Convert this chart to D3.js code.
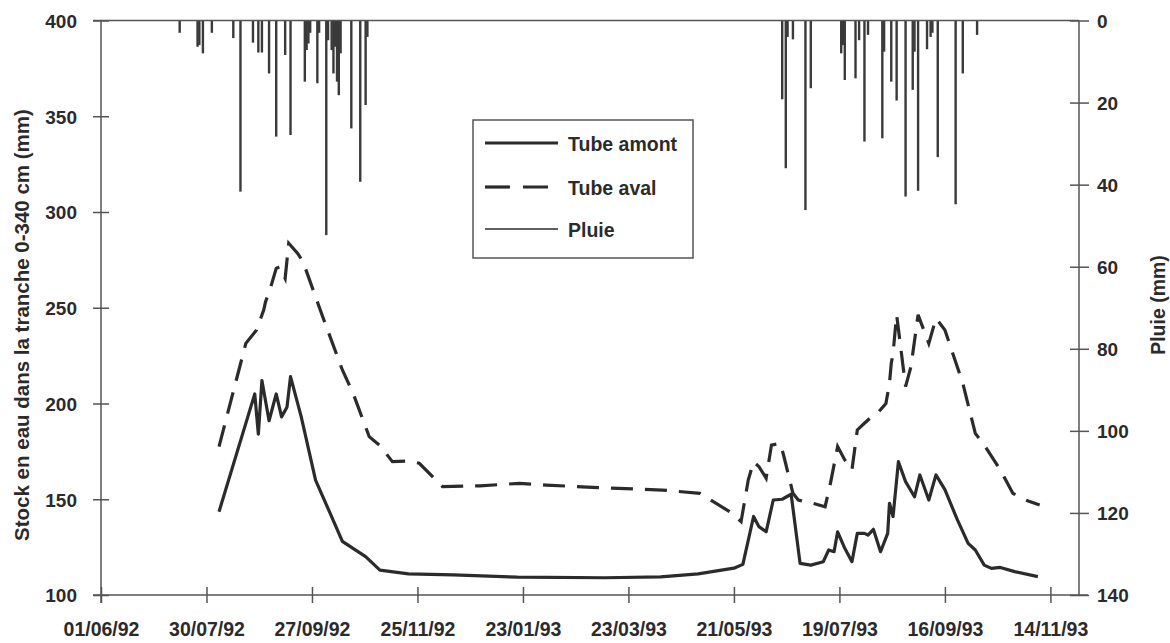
<!DOCTYPE html>
<html><head><meta charset="utf-8">
<script src="https://cdn.jsdelivr.net/npm/d3@7"></script>
<style>
html,body{margin:0;padding:0;background:#fff;}
svg{display:block;}
text{font-family:"Liberation Sans",Arial,Helvetica,sans-serif;font-weight:bold;fill:#2b2b2b;}
</style></head>
<body>
<svg id="chart" width="1170" height="643"></svg>
<script>
// ---------- DATA ----------
const tickDates = ["1992-06-01","1992-07-30","1992-09-27","1992-11-25","1993-01-23","1993-03-23","1993-05-21","1993-07-19","1993-09-16","1993-11-14"];
const leftTicks = [100,150,200,250,300,350,400];
const rightTicks = [0,20,40,60,80,100,120,140];

const amontDates = ["1992-08-06","1992-08-26","1992-08-28","1992-08-30","1992-09-03","1992-09-07","1992-09-10","1992-09-13","1992-09-15","1992-09-21","1992-09-29","1992-10-07","1992-10-14","1992-10-27","1992-11-04","1992-11-20","1992-12-15","1993-01-20","1993-03-10","1993-04-10","1993-05-01","1993-05-21","1993-05-26","1993-06-01","1993-06-04","1993-06-08","1993-06-12","1993-06-17","1993-06-22","1993-06-27","1993-07-03","1993-07-10","1993-07-13","1993-07-16","1993-07-18","1993-07-22","1993-07-26","1993-07-29","1993-08-02","1993-08-04","1993-08-07","1993-08-11","1993-08-15","1993-08-16","1993-08-18","1993-08-21","1993-08-25","1993-08-30","1993-09-02","1993-09-07","1993-09-11","1993-09-16","1993-09-23","1993-09-29","1993-10-03","1993-10-08","1993-10-12","1993-10-17","1993-10-25","1993-11-07"];
const amontValues = [143.5,205,184,212,191,205,193,198,214,193,160,143,128,120,113,111,110.5,109.3,109,109.5,111,114,116,141,135.7,133,149.6,150,152.6,116.5,115.6,117.4,123.5,122.6,133,124.4,117.4,132.2,132.2,131.3,134.3,122.6,132.2,147.9,141,169.6,159.2,151.3,162.7,149.6,162.7,155,139.2,127,123.5,115.6,113.9,114.4,112.2,109.6];

const avalDates = ["1992-08-06","1992-08-21","1992-08-27","1992-08-29","1992-08-31","1992-09-01","1992-09-04","1992-09-07","1992-09-09","1992-09-12","1992-09-14","1992-09-19","1992-09-22","1992-10-03","1992-10-14","1992-10-20","1992-10-29","1992-11-04","1992-11-11","1992-11-20","1992-11-26","1992-12-09","1992-12-30","1993-01-21","1993-02-05","1993-03-03","1993-04-11","1993-05-02","1993-05-20","1993-05-25","1993-05-29","1993-06-01","1993-06-04","1993-06-08","1993-06-11","1993-06-16","1993-06-18","1993-06-23","1993-06-26","1993-07-04","1993-07-11","1993-07-14","1993-07-18","1993-07-22","1993-07-26","1993-07-29","1993-08-02","1993-08-06","1993-08-10","1993-08-14","1993-08-16","1993-08-17","1993-08-18","1993-08-20","1993-08-22","1993-08-25","1993-08-28","1993-09-01","1993-09-07","1993-09-11","1993-09-16","1993-09-26","1993-10-03","1993-10-08","1993-10-17","1993-10-24","1993-10-31","1993-11-08"];
const avalValues = [177.5,231.4,238.4,243.6,248.8,253,261,270.6,271.4,265.4,283.7,278.4,274,245.3,217.5,205.3,182.7,178,169.6,170,168.8,156.6,157,158.3,157.4,156.2,154.8,153.1,142.7,138.3,160,169.6,167,161,178.3,179.2,172.2,153.1,149.6,147.9,146.1,158.4,177.5,170.5,165.3,186.2,189.7,193.1,195.7,200,210.6,221,226.2,246.3,231.4,208.8,219.2,246.3,231.4,244.5,238.4,210.6,184.4,178.3,165.3,153.1,149.6,147];

const rainDates = ["1992-07-15","1992-07-25","1992-07-26","1992-07-28","1992-08-02","1992-08-14","1992-08-18","1992-08-25","1992-08-28","1992-08-30","1992-09-03","1992-09-07","1992-09-12","1992-09-15","1992-09-23","1992-09-24","1992-09-25","1992-09-26","1992-09-30","1992-10-01","1992-10-05","1992-10-06","1992-10-08","1992-10-09","1992-10-10","1992-10-11","1992-10-12","1992-10-13","1992-10-19","1992-10-24","1992-10-27","1992-10-28",
"1993-06-17","1993-06-19","1993-06-20","1993-06-23","1993-06-30","1993-07-03","1993-07-20","1993-07-21","1993-07-22","1993-07-28","1993-07-30","1993-08-02","1993-08-04","1993-08-12","1993-08-13","1993-08-17","1993-08-20","1993-08-25","1993-08-29","1993-08-30","1993-09-01","1993-09-06","1993-09-08","1993-09-09","1993-09-12","1993-09-22","1993-09-26","1993-10-04"];
const rainValues = [3,6.4,6,8,3,4.3,41.7,5.4,7.8,7.8,12.9,28.3,8.4,27.9,14.9,7.2,5.6,3,15.3,3,52.3,4.8,7.2,12.9,6.4,14.9,18.2,8,26.3,39.3,20.6,4,
19.2,36,4,4.6,46.2,16.5,8,6,14.5,14.1,4.8,29.5,3.5,28.7,7.6,14.9,19.5,42.9,16.9,7.6,41.5,7,4,3,33.3,44.8,12.9,3.5];

const legendLabels = ["Tube amont","Tube aval","Pluie"];
const yLeftTitle = "Stock en eau dans la tranche 0-340 cm (mm)";
const yRightTitle = "Pluie (mm)";

// ---------- LAYOUT ----------
const parse = d3.utcParse("%Y-%m-%d");
const L = 101, R = 1079, T = 20.5, B = 595;
const svg = d3.select("#chart");
const ink = "#2b2b2b", axisCol = "#555";

const x = d3.scaleUtc().domain([parse("1992-06-01"), parse("1993-11-30")]).range([L, R]);
const yL = d3.scaleLinear().domain([100, 400]).range([B, T]);
const yR = d3.scaleLinear().domain([0, 140]).range([T, B]);

// rain bars
const rain = rainDates.map((d,i)=>({d:parse(d), v:rainValues[i]}));
svg.append("g").selectAll("rect").data(rain).join("rect")
  .attr("x", d=>x(d.d)-1.2).attr("width", 2.4)
  .attr("y", yR(0)).attr("height", d=>yR(d.v)-yR(0))
  .attr("fill", "#3a3a3a");

// axes
const xAxis = d3.axisBottom(x).tickValues(tickDates.map(parse)).tickFormat(d3.utcFormat("%d/%m/%y")).tickSize(8);
const gx = svg.append("g").attr("transform", `translate(0,${B})`).call(xAxis);
gx.selectAll(".tick line").attr("y1", -8).attr("y2", 8);
gx.selectAll(".tick text").attr("y", 41).attr("dy", 0).style("font-size","19.5px");
gx.select(".domain").attr("d", `M${L-8},0H${R+9}`);

const gl = svg.append("g").attr("transform", `translate(${L},0)`).call(d3.axisLeft(yL).tickValues(leftTicks).tickSize(8));
gl.selectAll(".tick line").attr("x1", -8).attr("x2", 8);
gl.selectAll(".tick text").attr("x", -24).attr("dy","0.36em").style("font-size","19px");
gl.select(".domain").attr("d", `M0,${T}V${B+8}`);

const gr = svg.append("g").attr("transform", `translate(${R},0)`).call(d3.axisRight(yR).tickValues(rightTicks).tickSize(8));
gr.selectAll(".tick line").attr("x1", -9).attr("x2", 10);
gr.selectAll(".tick text").attr("x", 18).attr("dy","0.36em").style("font-size","19px");
gr.select(".domain").attr("d", `M0,${T}V${B}`);

// top line
svg.append("line").attr("x1", L-8).attr("x2", R).attr("y1", T).attr("y2", T).attr("stroke", axisCol).attr("stroke-width", 1.5);

[gx, gl, gr].forEach(g=>{
  g.selectAll("path,line").attr("stroke", axisCol).attr("stroke-width", 1.5);
  g.selectAll("text").attr("fill", ink).style("font-family",'"Liberation Sans",Arial,sans-serif').style("font-weight","bold");
});

// lines
const line = d3.line().x(d=>x(d.d)).y(d=>yL(d.v));
const amont = amontDates.map((d,i)=>({d:parse(d), v:amontValues[i]}));
const aval = avalDates.map((d,i)=>({d:parse(d), v:avalValues[i]}));
svg.append("path").datum(aval).attr("d", line).attr("fill","none").attr("stroke", ink).attr("stroke-width", 3.2).attr("stroke-dasharray","22 12");
svg.append("path").datum(amont).attr("d", line).attr("fill","none").attr("stroke", ink).attr("stroke-width", 3.2).attr("stroke-linejoin","round");

// titles
svg.append("text").attr("transform", `translate(29,325) rotate(-90)`).attr("text-anchor","middle").style("font-size","20.5px").text(yLeftTitle);
svg.append("text").attr("transform", `translate(1165,305) rotate(-90)`).attr("text-anchor","middle").style("font-size","19.5px").text(yRightTitle);

// legend
const lg = svg.append("g");
lg.append("rect").attr("x",473).attr("y",120).attr("width",220).attr("height",138).attr("fill","#fff").attr("stroke","#555").attr("stroke-width",1.5);
const ly = [143, 187, 229];
lg.append("line").attr("x1",485).attr("x2",558).attr("y1",ly[0]).attr("y2",ly[0]).attr("stroke",ink).attr("stroke-width",3.2);
lg.append("line").attr("x1",485).attr("x2",560).attr("y1",ly[1]).attr("y2",ly[1]).attr("stroke",ink).attr("stroke-width",3.2).attr("stroke-dasharray","25 13");
lg.append("line").attr("x1",485).attr("x2",558).attr("y1",ly[2]).attr("y2",ly[2]).attr("stroke",ink).attr("stroke-width",1.6);
legendLabels.forEach((t,i)=>{
  lg.append("text").attr("x",568).attr("y",ly[i]+8).style("font-size","19.5px").text(t);
});
</script>
</body></html>
